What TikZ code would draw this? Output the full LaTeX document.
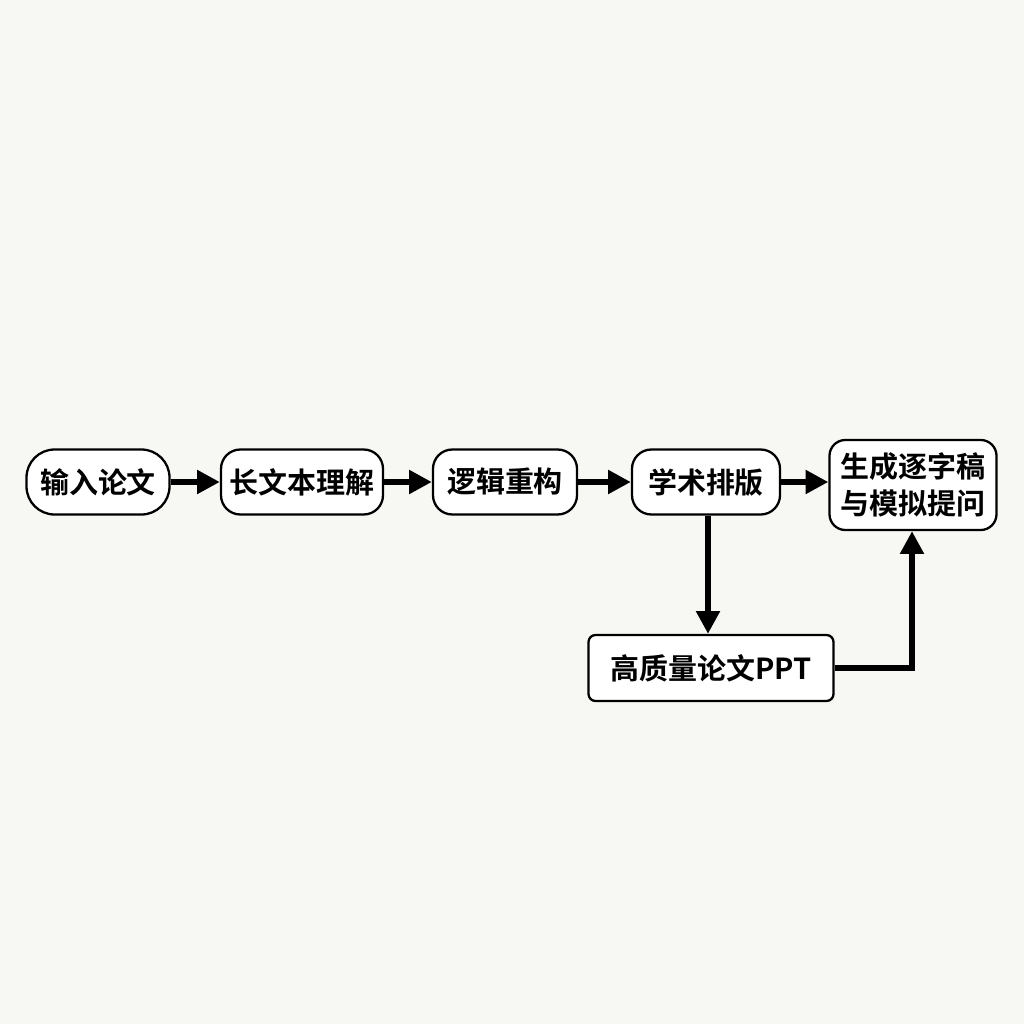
\documentclass[tikz,border=0pt]{standalone}
\usepackage{fontspec}
\newfontfamily\cjk{Noto Sans CJK SC}[BoldFont={Noto Sans CJK SC Bold}]
\usetikzlibrary{arrows.meta}
\definecolor{bgc}{HTML}{F7F7F4}
\tikzset{
  box/.style={draw=black, line width=1.3pt, fill=white, align=center,
    font=\cjk\bfseries\fontsize{16.5}{21}\selectfont, inner sep=0pt},
  flow/.style={line width=3.4pt, -{Triangle[length=13pt,width=13pt]}}
}
\begin{document}
\begin{tikzpicture}[x=0.02cm,y=-0.02cm]
\fill[bgc] (0,0) rectangle (1024,1024);
\useasboundingbox (0,0) rectangle (1024,1024);
\node[box, rounded corners=16pt, minimum width=143*0.02cm, minimum height=65*0.02cm] (a) at (98,482) {输入论文};
\node[box, rounded corners=11pt, minimum width=162*0.02cm, minimum height=65*0.02cm] (b) at (302,482) {长文本理解};
\node[box, rounded corners=11pt, minimum width=144*0.02cm, minimum height=65*0.02cm] (c) at (505,482) {逻辑重构};
\node[box, rounded corners=11pt, minimum width=148*0.02cm, minimum height=65*0.02cm] (d) at (706,482) {学术排版};
\node[box, rounded corners=9pt, minimum width=167*0.02cm, minimum height=90*0.02cm] (e) at (913,485) {生成逐字稿\\与模拟提问};
\node[box, rounded corners=4pt, minimum width=245*0.02cm, minimum height=66*0.02cm] (f) at (711,668) {高质量论文PPT};
\draw[flow] (a) -- (b);
\draw[flow] (b) -- (c);
\draw[flow] (c) -- (d);
\draw[flow] (d.east) -- (e.west |- d.east);
\draw[flow] (d.south -| 708,0) -- (f.north -| 708,0);
\draw[flow] (f.east) -| (e.south -| 912,0);
\end{tikzpicture}
\end{document}
